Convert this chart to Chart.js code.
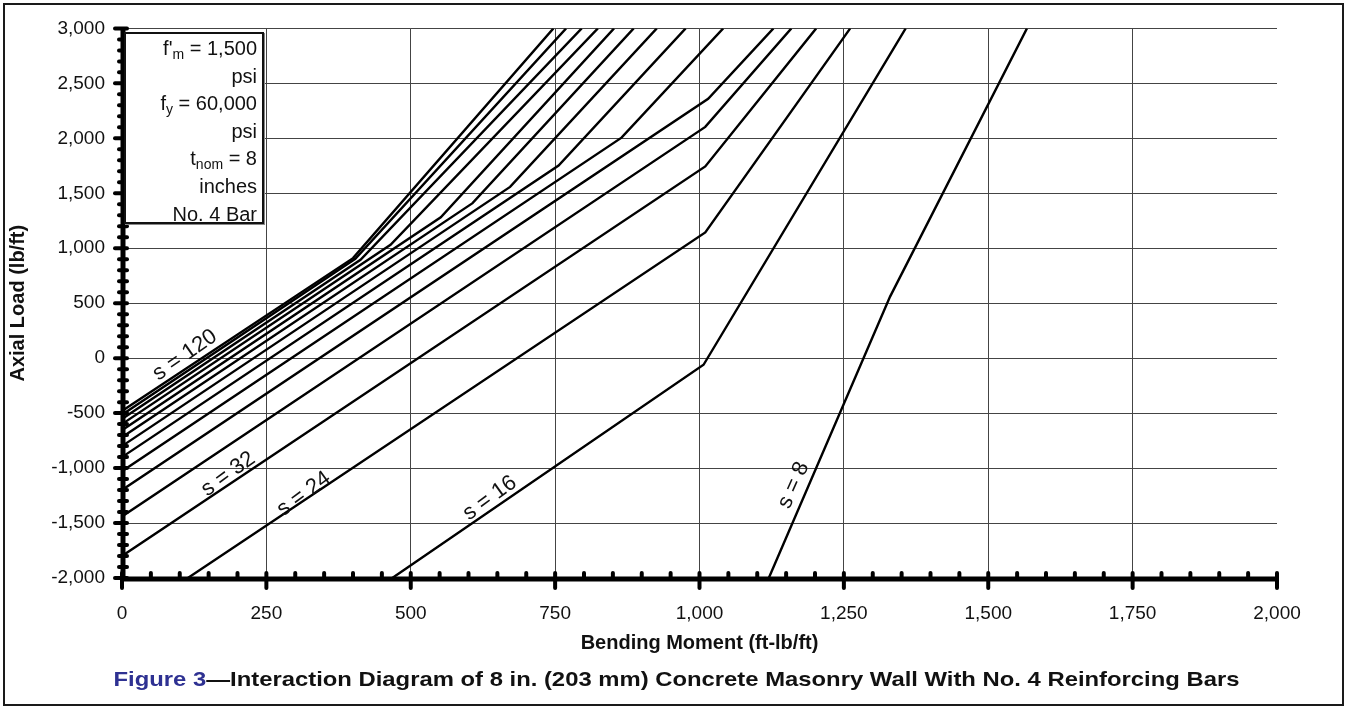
<!DOCTYPE html>
<html>
<head>
<meta charset="utf-8">
<script src="https://cdn.jsdelivr.net/npm/chart.js@4.4.1/dist/chart.umd.min.js"></script>
<style>
  body { margin: 0; background: #fff; }
  #wrap { position: relative; width: 1347px; height: 707px; overflow: hidden; }
  #frame { position: absolute; left: 3px; top: 3px; width: 1341px; height: 703px; border: 2px solid #1a1a1a; box-sizing: border-box; }
  #chart { position: absolute; left: 0; top: 0; }
  #props { position: absolute; left: 124px; top: 32px; width: 140px; height: 192px; box-sizing: border-box;
    border: 2px solid #111; box-shadow: 1px 1px 0 #888; background: #fff; text-align: right; padding: 1px 5px 0 0;
    font: 20px "Liberation Sans", Arial, sans-serif; line-height: 27.6px; color: #111; }
  #props sub { font-size: 14px; line-height: 0; vertical-align: -4px; }
  #caption { position: absolute; left: 3px; width: 1347px; top: 667px; text-align: center; white-space: nowrap;
    font: bold 21px "Liberation Sans", Arial, sans-serif; color: #111; transform: scaleX(1.135); transform-origin: 50% 50%; }
  #caption span { color: #2e3192; }
</style>
</head>
<body>
<div id="wrap">
  <canvas id="chart" width="1347" height="707"></canvas>
  <div id="props">f'<sub>m</sub> = 1,500<br>psi<br>f<sub>y</sub> = 60,000<br>psi<br>t<sub>nom</sub> = 8<br>inches<br>No. 4 Bar</div>
  <div id="caption"><span>Figure 3</span>—Interaction Diagram of 8 in. (203 mm) Concrete Masonry Wall With No. 4 Reinforcing Bars</div>
  <div id="frame"></div>
</div>
<script>
// bar spacing in inches, one curve per spacing
const spacings = [120, 112, 104, 96, 88, 80, 72, 64, 56, 48, 40, 32, 24, 16, 8]

// [bending moment ft-lb/ft, axial load lb/ft]
const curve120 = [[0, -480], [400, 910], [747, 3000]]
const curve112 = [[0, -514], [404, 904], [769, 3000]]
const curve104 = [[0, -554], [413, 895], [796, 3000]]
const curve96 = [[0, -600], [465, 1032], [824, 3000]]
const curve88 = [[0, -655], [552, 1282], [852, 3000]]
const curve80 = [[0, -720], [607, 1410], [886, 3000]]
const curve72 = [[0, -800], [672, 1558], [926, 3000]]
const curve64 = [[0, -900], [756, 1753], [976, 3000]]
const curve56 = [[0, -1029], [865, 2006], [1041, 3000]]
const curve48 = [[0, -1200], [1015, 2360], [1128, 3000]]
const curve40 = [[0, -1440], [1010, 2104], [1159, 3000]]
const curve32 = [[0, -1800], [1010, 1744], [1202, 3000]]
const curve24 = [[114, -2000], [1010, 1144], [1261, 3000]]
const curve16 = [[468, -2000], [1007, -60], [1357, 3000]]
const curve8 = [[1120, -2000], [1330, 560], [1567, 3000]]

const curves = [curve120, curve112, curve104, curve96, curve88, curve80, curve72, curve64,
  curve56, curve48, curve40, curve32, curve24, curve16, curve8]

// curve labels: text, anchor [moment, axial], angle in degrees
const labelTexts = ["s = 120", "s = 32", "s = 24", "s = 16", "s = 8"]
const labelAnchors = [[109, 27], [184, -1055], [315, -1236], [637, -1273], [1163, -1155]]
const labelAngles = [-35, -36, -36, -36, -66]

const xMin = 0, xMax = 2000, xStep = 250, xMinor = 50
const yMin = -2000, yMax = 3000, yStep = 500, yMinor = 100

const datasets = curves.map((c, i) => ({
  label: "s = " + spacings[i],
  data: c.map(p => ({ x: p[0], y: p[1] })),
  showLine: true,
  borderColor: "#000",
  borderWidth: 2.4,
  pointRadius: 0,
  tension: 0
}))

//axis lines, tick marks and curve labels
const axesPlugin = {
  id: "axesPlugin",
  afterDatasetsDraw(chart) {
    const { ctx, chartArea, scales: { x, y } } = chart
    const x0 = x.getPixelForValue(xMin) + 1
    const y0 = y.getPixelForValue(yMin) + 1

    ctx.save()
    ctx.font = '22px "Liberation Sans", Arial, sans-serif'
    ctx.fillStyle = "#111"
    ctx.textAlign = "center"
    ctx.textBaseline = "middle"
    for (let i = 0; i < labelTexts.length; i++) {
      ctx.save()
      ctx.translate(x.getPixelForValue(labelAnchors[i][0]), y.getPixelForValue(labelAnchors[i][1]))
      ctx.rotate(labelAngles[i] * Math.PI / 180)
      ctx.fillText(labelTexts[i], 0, 0)
      ctx.restore()
    }

    ctx.strokeStyle = "#000"
    ctx.lineCap = "round"

    ctx.lineWidth = 4
    for (let v = yMin; v <= yMax; v += yMinor) {
      const py = y.getPixelForValue(v)
      const major = v % yStep == 0
      ctx.beginPath()
      ctx.moveTo(x0 - (major ? 8 : 4), py)
      ctx.lineTo(x0 + 4, py)
      ctx.stroke()
    }
    for (let v = xMin; v <= xMax; v += xMinor) {
      const px = x.getPixelForValue(v)
      const major = v % xStep == 0
      ctx.beginPath()
      ctx.moveTo(px, y0 - 6)
      ctx.lineTo(px, y0 + (major ? 9 : 0))
      ctx.stroke()
    }

    ctx.lineCap = "butt"
    ctx.lineWidth = 5
    ctx.beginPath()
    ctx.moveTo(x0, chartArea.top - 1)
    ctx.lineTo(x0, y0)
    ctx.lineTo(x.getPixelForValue(xMax) + 1, y0)
    ctx.stroke()
    ctx.restore()
  }
}

const tickFont = { family: '"Liberation Sans", Arial, sans-serif', size: 19 }
const titleFont = { family: '"Liberation Sans", Arial, sans-serif', size: 20, weight: "bold" }

new Chart(document.getElementById("chart"), {
  type: "scatter",
  data: { datasets },
  options: {
    responsive: false,
    animation: false,
    devicePixelRatio: 1,
    layout: { padding: { top: 28, right: 70, bottom: 0, left: 0 } },
    plugins: { legend: { display: false }, tooltip: { enabled: false } },
    scales: {
      x: {
        type: "linear", min: xMin, max: xMax,
        ticks: { stepSize: xStep, color: "#111", font: tickFont, padding: 24, maxRotation: 0,
          callback: v => v.toLocaleString("en-US") },
        grid: { color: ctx => ctx.tick && ctx.tick.value == xMax ? "rgba(0,0,0,0)" : "#444", lineWidth: 1, drawTicks: false },
        border: { display: false },
        title: { display: true, text: "Bending Moment (ft-lb/ft)", color: "#111", font: titleFont, padding: { top: 0, bottom: 52 } },
        afterFit: s => { s.height = 129 }
      },
      y: {
        type: "linear", min: yMin, max: yMax,
        ticks: { stepSize: yStep, color: "#111", font: tickFont, padding: 17,
          callback: v => v.toLocaleString("en-US") },
        grid: { color: "#444", lineWidth: 1, drawTicks: false },
        border: { display: false },
        title: { display: true, text: "Axial Load (lb/ft)", color: "#111", font: titleFont, padding: { top: 6, bottom: 0 } },
        afterFit: s => { s.width = 122 }
      }
    }
  },
  plugins: [axesPlugin]
})
</script>
</body>
</html>
